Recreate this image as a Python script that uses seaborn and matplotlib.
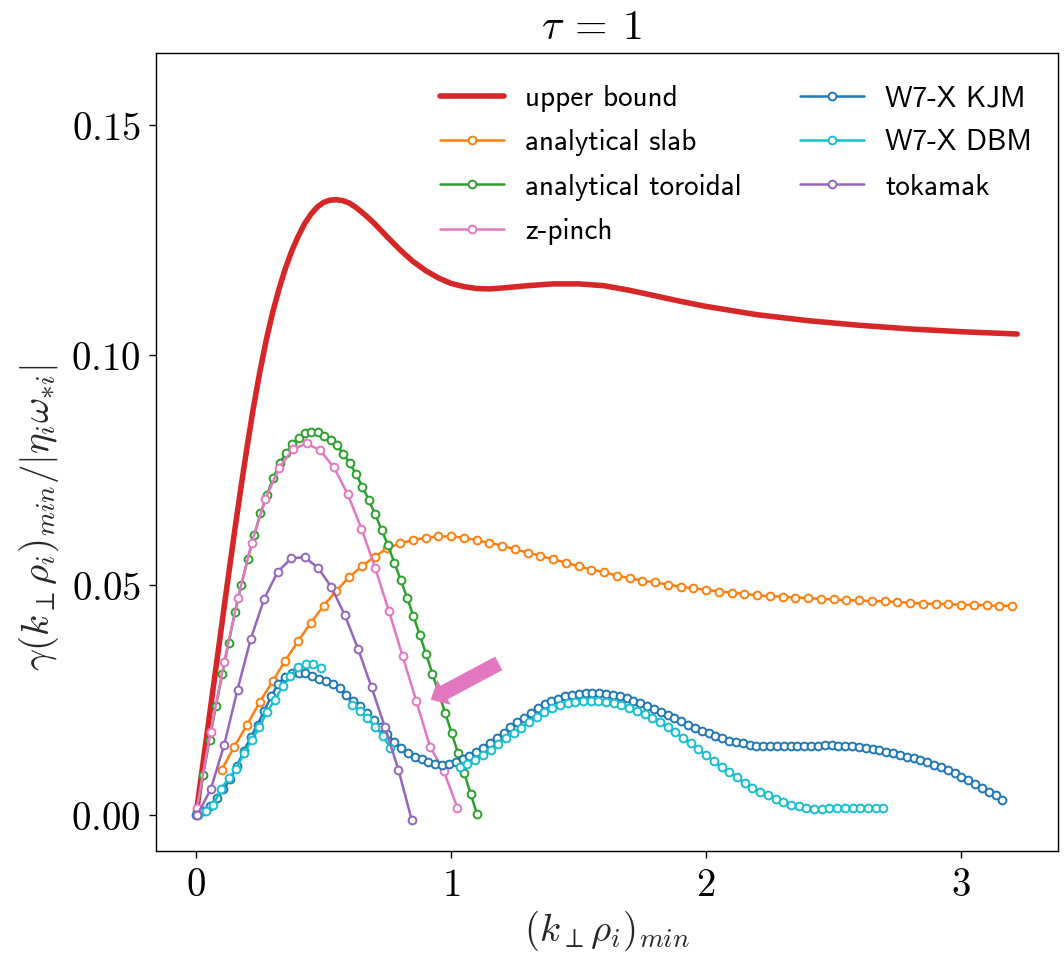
import numpy as np
import matplotlib
matplotlib.use("Agg")
import matplotlib.pyplot as plt
import seaborn as sns
from matplotlib.ticker import FuncFormatter

sns.set_style("ticks")
plt.rcParams["font.family"] = ["DejaVu Sans"]
plt.rcParams["mathtext.fontset"] = "cm"
plt.rcParams["axes.edgecolor"] = "black"
plt.rcParams["xtick.color"] = "black"
plt.rcParams["ytick.color"] = "black"
plt.rcParams["text.color"] = "black"

# ---- data ----
upper_x = [0.0, 0.05, 0.10, 0.125, 0.15, 0.175, 0.20, 0.225, 0.25, 0.275, 0.30,
           0.325, 0.35, 0.375, 0.40, 0.425, 0.45, 0.475, 0.50, 0.525, 0.55, 0.575,
           0.60, 0.625, 0.65, 0.675, 0.70, 0.75, 0.80, 0.85, 0.90, 0.95, 1.00,
           1.05, 1.10, 1.15, 1.20, 1.30, 1.40, 1.50, 1.60, 1.70, 1.80, 1.90, 2.00,
           2.20, 2.40, 2.60, 2.80, 3.00, 3.22]
upper_y = [0.0, 0.0205, 0.0410, 0.0512, 0.0612, 0.0708, 0.0800, 0.0886, 0.0963,
           0.1032, 0.1092, 0.1143, 0.1188, 0.1226, 0.1258, 0.1285, 0.1306, 0.1322,
           0.1332, 0.1337, 0.1338, 0.1336, 0.1331, 0.1322, 0.1311, 0.1299, 0.1286,
           0.1257, 0.1229, 0.1204, 0.1184, 0.1168, 0.1156, 0.1149, 0.1145, 0.1144,
           0.1146, 0.1151, 0.1155, 0.1155, 0.1151, 0.1141, 0.1129, 0.1117, 0.1106,
           0.1088, 0.1075, 0.1065, 0.1057, 0.1051, 0.1046]

slab_x = np.linspace(0.10, 3.20, 63)
slab_y = [0.0098, 0.0149, 0.0196, 0.0246, 0.0291, 0.0336, 0.0378, 0.0418, 0.0455,
          0.0488, 0.0517, 0.0541, 0.0562, 0.0580, 0.0591, 0.0598, 0.0603, 0.0606,
          0.0606, 0.0603, 0.0598, 0.0592, 0.0586, 0.0578, 0.0571, 0.0564, 0.0556,
          0.0549, 0.0541, 0.0534, 0.0528, 0.0521, 0.0515, 0.0510, 0.0506, 0.0501,
          0.0497, 0.0493, 0.0490, 0.0486, 0.0484, 0.0481, 0.0478, 0.0476, 0.0475,
          0.0473, 0.0472, 0.0470, 0.0469, 0.0467, 0.0467, 0.0465, 0.0465, 0.0463,
          0.0462, 0.0460, 0.0459, 0.0459, 0.0457, 0.0457, 0.0456, 0.0455, 0.0455]

toroidal_x = np.linspace(0.003, 1.102, 45)
toroidal_y = [0.0010, 0.0088, 0.0163, 0.0237, 0.0307, 0.0375, 0.0441, 0.0501, 0.0557,
              0.0608, 0.0656, 0.0696, 0.0733, 0.0765, 0.0787, 0.0807, 0.0821, 0.0830,
              0.0834, 0.0832, 0.0825, 0.0815, 0.0804, 0.0786, 0.0766, 0.0741, 0.0714,
              0.0685, 0.0654, 0.0621, 0.0587, 0.0549, 0.0512, 0.0473, 0.0433, 0.0392,
              0.0350, 0.0307, 0.0265, 0.0222, 0.0179, 0.0135, 0.0091, 0.0046, 0.0002]

pinch_x = np.linspace(0.003, 1.025, 20)
pinch_y = [0.0015, 0.0180, 0.0333, 0.0472, 0.0592, 0.0687, 0.0755, 0.0795, 0.0808,
           0.0793, 0.0756, 0.0698, 0.0623, 0.0538, 0.0444, 0.0346, 0.0248, 0.0149,
           0.0096, 0.0016]

kjm_x = np.linspace(0.0, 3.162, 119)
kjm_y = [0.0000, 0.0008, 0.0020, 0.0037, 0.0056, 0.0078, 0.0107, 0.0140, 0.0169,
         0.0197, 0.0227, 0.0258, 0.0285, 0.0301, 0.0308, 0.0310, 0.0308, 0.0302,
         0.0297, 0.0292, 0.0286, 0.0276, 0.0262, 0.0249, 0.0237, 0.0221, 0.0206,
         0.0191, 0.0176, 0.0160, 0.0146, 0.0135, 0.0127, 0.0121, 0.0115, 0.0111,
         0.0110, 0.0112, 0.0116, 0.0122, 0.0129, 0.0137, 0.0147, 0.0157, 0.0168,
         0.0179, 0.0191, 0.0202, 0.0212, 0.0222, 0.0232, 0.0241, 0.0248, 0.0253,
         0.0259, 0.0262, 0.0264, 0.0266, 0.0266, 0.0266, 0.0264, 0.0262, 0.0259,
         0.0254, 0.0249, 0.0243, 0.0237, 0.0231, 0.0225, 0.0218, 0.0211, 0.0204,
         0.0197, 0.0190, 0.0184, 0.0178, 0.0172, 0.0167, 0.0162, 0.0159, 0.0156,
         0.0153, 0.0151, 0.0151, 0.0150, 0.0150, 0.0150, 0.0151, 0.0151, 0.0151,
         0.0151, 0.0151, 0.0152, 0.0152, 0.0151, 0.0151, 0.0150, 0.0149, 0.0146,
         0.0144, 0.0141, 0.0138, 0.0135, 0.0131, 0.0127, 0.0124, 0.0120, 0.0115,
         0.0109, 0.0104, 0.0098, 0.0091, 0.0083, 0.0076, 0.0067, 0.0059, 0.0051,
         0.0043, 0.0034]

nan = np.nan
dbm_x = np.linspace(0.007, 2.695, 90)
dbm_y = [0.0000, 0.0008, 0.0022, 0.0056, 0.0081, 0.0101, 0.0135, 0.0163, 0.0192,
         0.0225, 0.0250, 0.0280, 0.0302, 0.0321, 0.0328, 0.0328, 0.0319,
         nan, nan, nan,
         0.0240, 0.0227, 0.0212, 0.0192, 0.0173, 0.0146,
         nan, nan, nan, nan, nan, nan, nan, nan,
         0.0105, 0.0111, 0.0119, 0.0130, 0.0141, 0.0154, 0.0167, 0.0178, 0.0190,
         0.0203, 0.0214, 0.0224, 0.0232, 0.0239, 0.0244, 0.0247, 0.0248, 0.0248,
         0.0248, 0.0246, 0.0243, 0.0239, 0.0234, 0.0227, 0.0220, 0.0211, 0.0202,
         0.0191, 0.0180, 0.0168, 0.0156, 0.0143, 0.0130, 0.0117, 0.0105, 0.0094,
         0.0082, 0.0070, 0.0060, 0.0051, 0.0043, 0.0036, 0.0028, 0.0022, 0.0019,
         0.0015, 0.0014, 0.0014, 0.0015, 0.0016, 0.0015, 0.0016, 0.0016, 0.0016,
         0.0016, 0.0016]

tokamak_x = np.linspace(0.005, 0.846, 17)
tokamak_y = [0.0000, 0.0056, 0.0152, 0.0273, 0.0384, 0.0471, 0.0529, 0.0558, 0.0561,
             0.0538, 0.0496, 0.0435, 0.0361, 0.0278, 0.0191, 0.0099, -0.0011]

arrow_tip = (0.920, 0.0251)
arrow_tail = (1.187, 0.0330)

x_ticks = [0, 1, 2, 3]
y_ticks = [0.00, 0.05, 0.10, 0.15]


def draw_series(ax, x, y, color, label):
    y = np.asarray(y, dtype=float)
    # separate pieces where the series has no value
    seg = np.cumsum(np.isnan(y))
    sns.lineplot(x=x, y=y, units=seg, estimator=None, sort=False, ax=ax,
                 color=color, lw=1.8, marker="o", markersize=5.6,
                 markerfacecolor="white", markeredgecolor=color,
                 markeredgewidth=1.4, label=label)


def main():
    fig = plt.figure(figsize=(10.64, 9.56), dpi=100)
    ax = fig.add_axes([0.1466, 0.1098, 0.8478, 0.8348])

    sns.lineplot(x=upper_x, y=upper_y, ax=ax, color="#d62728", lw=4.0,
                 estimator=None, sort=False, label="upper bound")
    draw_series(ax, slab_x, slab_y, "#ff7f0e", "analytical slab")
    draw_series(ax, toroidal_x, toroidal_y, "#2ca02c", "analytical toroidal")
    draw_series(ax, pinch_x, pinch_y, "#e377c2", "z-pinch")
    draw_series(ax, kjm_x, kjm_y, "#1f77b4", "W7-X KJM")
    draw_series(ax, dbm_x, dbm_y, "#17becf", "W7-X DBM")
    draw_series(ax, tokamak_x, tokamak_y, "#9467bd", "tokamak")

    ax.annotate("", xy=arrow_tip, xytext=arrow_tail,
                arrowprops=dict(arrowstyle="simple,head_length=1.1,head_width=2.0,tail_width=1.1",
                                color="#e377c2", lw=0, mutation_scale=10,
                                shrinkA=0, shrinkB=0))

    ax.set_xlim(-0.157, 3.38)
    ax.set_ylim(-0.0078, 0.1657)
    ax.set_xticks(x_ticks)
    ax.set_yticks(y_ticks)
    ax.xaxis.set_major_formatter(FuncFormatter(lambda v, p: f"${v:g}$"))
    ax.yaxis.set_major_formatter(FuncFormatter(lambda v, p: f"${v:.2f}$"))
    ax.tick_params(axis="both", direction="out", length=5, width=1.0,
                   labelsize=28, pad=6)
    for sp in ax.spines.values():
        sp.set_linewidth(1.0)

    ax.set_xlabel(r"$(k_\perp\rho_i)_{min}$", fontsize=28, labelpad=3)
    ax.set_ylabel(r"$\gamma(k_\perp\rho_i)_{min}/|\eta_i\omega_{*i}|$", fontsize=28)
    ax.yaxis.set_label_coords(-0.105, 0.417)
    ax.set_title(r"$\tau\:=\:1$", fontsize=30, pad=10, x=0.483)

    # one legend entry per label (the DBM series is drawn in pieces)
    handles, labels = ax.get_legend_handles_labels()
    uniq = {}
    for h, l in zip(handles, labels):
        uniq.setdefault(l, h)
    ax.legend(list(uniq.values()), list(uniq.keys()), ncol=2, loc="upper left",
              bbox_to_anchor=(0.3149, 0.9595), borderpad=0, borderaxespad=0,
              frameon=False, prop={"family": "cmss10", "size": 21},
              handlelength=2.2, handletextpad=0.72, columnspacing=2.0,
              labelspacing=0.59)

    fig.savefig("out.png", dpi=100)


if __name__ == "__main__":
    main()
